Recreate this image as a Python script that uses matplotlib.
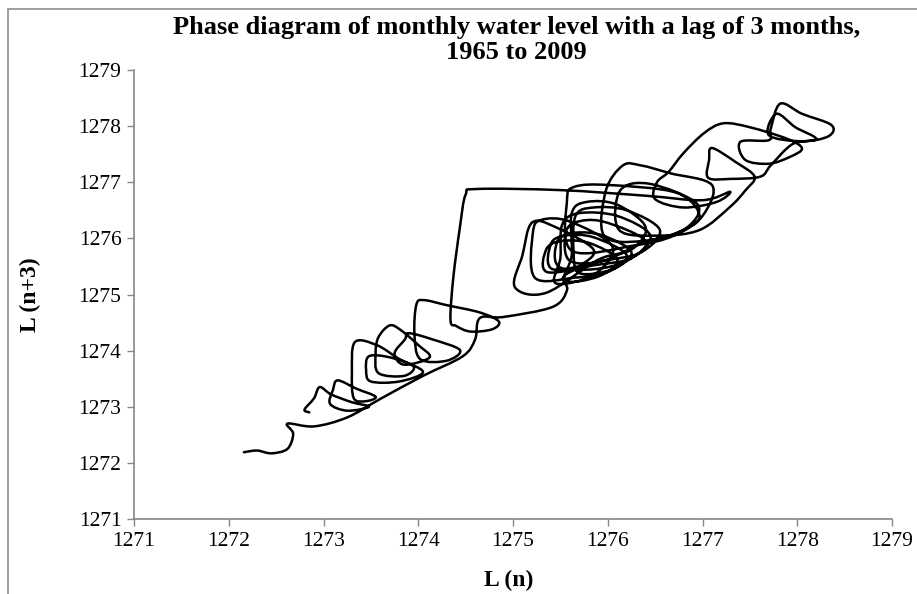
import numpy as np
import matplotlib.pyplot as plt
from matplotlib.path import Path
from matplotlib.patches import PathPatch, Rectangle

plt.rcParams['font.family'] = ['Liberation Serif', 'DejaVu Serif']

# phase points: L(n) on x, L(n+3) on y, in drawing order
ln = [
    # lower loops
    1272.85, 1272.80, 1272.90, 1272.96, 1273.08, 1273.30, 1273.48, 1273.25, 1273.07, 1273.10,
    1273.15, 1273.35, 1273.55, 1273.45, 1273.32, 1273.30, 1273.33, 1273.56, 1273.80, 1274.05,
    1273.80, 1273.50, 1273.45, 1273.48, 1273.70, 1273.95, 1273.85, 1273.58, 1273.55, 1273.58,
    1273.70, 1273.82, 1274.00, 1274.12, 1273.85, 1273.75, 1273.86, 1273.90, 1274.15, 1274.44,
    1274.30, 1274.02, 1273.96, 1273.98, 1274.06, 1274.30, 1274.65, 1274.85, 1274.78, 1274.55,
    1274.40, 1274.34,
    # jump
    1274.37, 1274.44, 1274.50, 1274.62, 1275.50, 1276.40, 1277.00, 1277.29, 1277.15, 1276.80,
    1276.50, 1276.52,
    # upper right
    1276.64, 1276.80, 1277.02, 1277.22, 1277.50, 1277.90, 1278.05, 1277.92, 1277.70, 1277.45,
    1277.40, 1277.70, 1277.72, 1277.82, 1278.05, 1278.36, 1278.33, 1278.05, 1277.70, 1277.78,
    1277.98, 1278.20, 1277.95, 1277.72, 1277.61, 1277.30, 1277.06, 1277.07, 1277.10, 1277.35,
    1277.55, 1277.45, 1277.29, 1276.97,
    # cluster
    1276.55, 1276.12, 1276.13, 1276.45, 1276.95, 1276.80, 1276.35,
    1275.96, 1275.98, 1276.16, 1276.35, 1276.66, 1277.10, 1277.00, 1276.70, 1276.30,
    1275.62, 1275.57, 1275.65, 1276.02, 1276.73, 1276.97, 1276.73, 1276.37, 1275.95,
    1275.60, 1275.55, 1275.65, 1275.95, 1276.40, 1276.20, 1275.85,
    1275.48, 1275.47, 1275.65, 1275.95, 1276.25, 1276.05, 1275.70,
    1275.64, 1275.66, 1275.85, 1276.20, 1276.55, 1276.35, 1275.95,
    1275.42, 1275.40, 1275.55, 1275.85, 1276.20, 1276.00, 1275.65,
    1275.23, 1275.21, 1275.30, 1275.60, 1276.05, 1275.85, 1275.45,
    1275.50, 1275.52, 1275.70, 1276.10, 1276.45, 1276.25, 1275.85,
    1275.36, 1275.35, 1275.50, 1275.80, 1276.10, 1275.90, 1275.55,
    1275.62, 1275.62, 1275.78, 1276.10, 1276.40, 1276.25, 1275.90,
    1275.35, 1275.02, 1275.10, 1275.20, 1275.45, 1275.85, 1275.70, 1275.53,
    # final fall
    1275.57, 1275.42, 1274.90, 1274.65, 1274.60, 1274.47, 1274.05, 1273.60, 1273.25, 1272.90,
    1272.62, 1272.68, 1272.62, 1272.45, 1272.30, 1272.16,
]
ln3 = [
    1272.90, 1272.95, 1273.15, 1273.35, 1273.22, 1273.08, 1273.00, 1272.93, 1273.05, 1273.30,
    1273.47, 1273.32, 1273.18, 1273.10, 1273.15, 1273.60, 1274.15, 1274.10, 1273.85, 1273.62,
    1273.45, 1273.45, 1273.65, 1273.90, 1273.88, 1273.72, 1273.55, 1273.60, 1273.95, 1274.24,
    1274.45, 1274.36, 1274.10, 1273.88, 1273.75, 1273.95, 1274.20, 1274.31, 1274.20, 1274.01,
    1273.82, 1273.85, 1274.30, 1274.82, 1274.90, 1274.81, 1274.68, 1274.52, 1274.38, 1274.34,
    1274.44, 1274.55,
    1275.30, 1276.20, 1276.78, 1276.88, 1276.86, 1276.76, 1276.68, 1276.83, 1276.65, 1276.55,
    1276.70, 1277.00,
    1277.18, 1277.52, 1277.88, 1278.05, 1277.98, 1277.77, 1277.60, 1277.45, 1277.33, 1277.40,
    1277.72, 1277.75, 1277.95, 1278.40, 1278.22, 1278.02, 1277.82, 1277.73, 1277.84, 1278.22,
    1277.98, 1277.77, 1277.68, 1277.30, 1277.10, 1277.06, 1277.08, 1277.40, 1277.61, 1277.36,
    1277.10, 1276.85, 1276.56, 1276.15,
    1276.05, 1276.15, 1276.85, 1276.97, 1276.60, 1276.15, 1275.95,
    1276.05, 1276.85, 1277.30, 1277.30, 1277.16, 1276.95, 1276.40, 1276.05, 1275.88,
    1275.78, 1276.68, 1276.92, 1276.95, 1276.81, 1276.38, 1276.10, 1275.92, 1275.60,
    1275.60, 1276.05, 1276.28, 1276.30, 1275.95, 1275.60, 1275.45,
    1275.50, 1275.95, 1276.10, 1276.05, 1275.75, 1275.45, 1275.38,
    1275.75, 1276.40, 1276.55, 1276.50, 1276.15, 1275.75, 1275.60,
    1275.45, 1275.90, 1276.05, 1276.02, 1275.70, 1275.40, 1275.30,
    1275.30, 1276.10, 1276.33, 1276.30, 1275.85, 1275.35, 1275.20,
    1275.65, 1276.25, 1276.45, 1276.40, 1276.05, 1275.65, 1275.52,
    1275.40, 1275.80, 1275.95, 1275.92, 1275.62, 1275.32, 1275.25,
    1275.70, 1276.45, 1276.65, 1276.60, 1276.20, 1275.80, 1275.62,
    1275.03, 1275.13, 1275.70, 1276.28, 1276.20, 1275.80, 1275.50, 1275.31,
    1275.08, 1274.78, 1274.60, 1274.58, 1274.20, 1273.90, 1273.55, 1273.14, 1272.81, 1272.65,
    1272.70, 1272.52, 1272.25, 1272.17, 1272.22, 1272.19,
]

ticks = list(range(1271, 1280))


def smooth_path(x, y):
    # Excel style smoothed line: cubic Bezier through every point
    p = np.column_stack([x, y])
    q = np.vstack([p[:1], p, p[-1:]])
    verts = [p[0]]
    codes = [Path.MOVETO]
    for i in range(1, len(q) - 2):
        c1 = q[i] + (q[i + 1] - q[i - 1]) / 6
        c2 = q[i + 1] - (q[i + 2] - q[i]) / 6
        verts += [c1, c2, q[i + 1]]
        codes += [Path.CURVE4] * 3
    return Path(verts, codes)


fig = plt.figure(figsize=(9.17, 5.94), dpi=100)
ax = fig.add_axes([134 / 917, 1 - 519 / 594, 758 / 917, 449 / 594])

ax.add_patch(PathPatch(smooth_path(ln, ln3), fill=False, ec='black', lw=1.8,
                       capstyle='round', joinstyle='round'))

ax.set_xlim(1271, 1279)
ax.set_ylim(1271, 1279)
ax.set_xticks(ticks)
ax.set_yticks(ticks)
ax.tick_params(direction='out', length=5, width=1, color='#868686',
               labelsize=15.5, pad=4)
for s in ['top', 'right']:
    ax.spines[s].set_visible(False)
for s in ['left', 'bottom']:
    ax.spines[s].set_color('#868686')
    ax.spines[s].set_linewidth(1.2)

fig.text(0.563, 1 - 16 / 594,
         'Phase diagram of monthly water level with a lag of 3 months,\n1965 to 2009',
         ha='center', va='top', fontsize=19, fontweight='bold', linespacing=1.1)
fig.text(0.555, 1 - 580 / 594, 'L (n)', ha='center', va='center',
         fontsize=17, fontweight='bold')
fig.text(30 / 917, 1 - 295 / 594, 'L (n+3)', ha='center', va='center',
         rotation=90, fontsize=17, fontweight='bold')

fig.add_artist(Rectangle((8 / 917, -0.1), 1.2, 1.1 - 9 / 594, transform=fig.transFigure,
                         fill=False, ec='#8c8c8c', lw=1.2))

fig.savefig('out.png', dpi=100)
